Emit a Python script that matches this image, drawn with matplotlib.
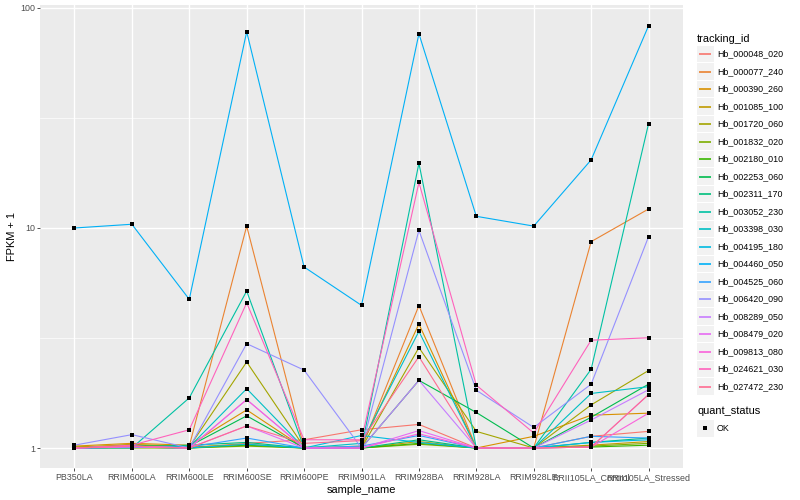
import numpy as np
import matplotlib
matplotlib.use("Agg")
import matplotlib.pyplot as plt
from matplotlib.patches import Rectangle

plt.rcParams['font.family'] = ['Liberation Sans', 'DejaVu Sans']

samples = ['PB350LA', 'RRIM600LA', 'RRIM600LE', 'RRIM600SE', 'RRIM600PE',
           'RRIM901LA', 'RRIM928BA', 'RRIM928LA', 'RRIM928LE',
           'RRII105LA_Control', 'RRII105LA_Stressed']

tracking_ids = ['Hb_000048_020', 'Hb_000077_240', 'Hb_000390_260', 'Hb_001085_100',
                'Hb_001720_060', 'Hb_001832_020', 'Hb_002180_010', 'Hb_002253_060',
                'Hb_002311_170', 'Hb_003052_230', 'Hb_003398_030', 'Hb_004195_180',
                'Hb_004460_050', 'Hb_004525_060', 'Hb_006420_090', 'Hb_008289_050',
                'Hb_008479_020', 'Hb_009813_080', 'Hb_024621_030', 'Hb_027472_230']

# FPKM + 1 per gene, one value per sample
hb_000048_020 = [1.00, 1.01, 1.00, 1.05, 1.09, 1.21, 1.28, 1.00, 1.00, 1.13, 1.19]
hb_000077_240 = [1.01, 1.02, 1.02, 10.2, 1.00, 1.00, 4.44, 1.00, 1.00, 8.67, 12.2]
hb_000390_260 = [1.02, 1.05, 1.03, 1.49, 1.00, 1.02, 3.66, 1.00, 1.13, 1.41, 1.44]
hb_001085_100 = [1.00, 1.04, 1.01, 1.04, 1.00, 1.00, 1.07, 1.00, 1.00, 1.03, 1.07]
hb_001720_060 = [1.01, 1.03, 1.01, 2.46, 1.01, 1.00, 2.86, 1.19, 1.00, 1.57, 2.25]
hb_001832_020 = [1.00, 1.00, 1.00, 1.02, 1.00, 1.00, 1.04, 1.00, 1.00, 1.02, 1.05]
hb_002180_010 = [1.00, 1.01, 1.00, 1.03, 1.00, 1.00, 1.05, 1.00, 1.00, 1.01, 1.03]
hb_002253_060 = [1.00, 1.02, 1.02, 1.40, 1.00, 1.00, 2.03, 1.45, 1.00, 1.38, 1.95]
hb_002311_170 = [1.00, 1.01, 1.03, 1.06, 1.00, 1.00, 1.09, 1.00, 1.00, 1.06, 1.11]
hb_003052_230 = [1.00, 1.00, 1.69, 5.17, 1.00, 1.00, 19.7, 1.00, 1.00, 2.28, 29.8]
hb_003398_030 = [1.00, 1.02, 1.01, 1.86, 1.00, 1.05, 3.39, 1.00, 1.00, 1.77, 1.90]
hb_004195_180 = [1.00, 1.01, 1.00, 1.04, 1.00, 1.14, 1.06, 1.00, 1.00, 1.06, 1.09]
hb_004460_050 = [10.0, 10.4, 4.74, 78.0, 6.65, 4.45, 76.4, 11.3, 10.2, 20.4, 83.0]
hb_004525_060 = [1.00, 1.01, 1.01, 1.11, 1.00, 1.02, 1.14, 1.00, 1.00, 1.13, 1.11]
hb_006420_090 = [1.03, 1.15, 1.00, 2.98, 2.26, 1.00, 9.76, 1.83, 1.24, 1.95, 9.13]
hb_008289_050 = [1.00, 1.02, 1.00, 1.66, 1.00, 1.00, 2.03, 1.00, 1.00, 1.34, 1.84]
hb_008479_020 = [1.00, 1.01, 1.00, 1.26, 1.00, 1.00, 1.20, 1.00, 1.00, 1.01, 1.75]
hb_009813_080 = [1.00, 1.02, 1.00, 1.66, 1.00, 1.00, 1.16, 1.00, 1.00, 1.01, 1.44]
hb_024621_030 = [1.00, 1.03, 1.21, 4.57, 1.09, 1.09, 16.1, 1.93, 1.17, 3.09, 3.17]
hb_027472_230 = [1.00, 1.02, 1.00, 1.26, 1.05, 1.08, 2.60, 1.00, 1.00, 1.01, 1.75]

series = [hb_000048_020, hb_000077_240, hb_000390_260, hb_001085_100, hb_001720_060,
          hb_001832_020, hb_002180_010, hb_002253_060, hb_002311_170, hb_003052_230,
          hb_003398_030, hb_004195_180, hb_004460_050, hb_004525_060, hb_006420_090,
          hb_008289_050, hb_008479_020, hb_009813_080, hb_024621_030, hb_027472_230]

# ggplot hue palette, 20 levels
colors = ['#F8766D', '#EA8331', '#D89000', '#C09B00', '#A3A500', '#7CAE00', '#39B600',
          '#00BB4E', '#00BF7D', '#00C1A3', '#00BFC4', '#00BAE0', '#00B0F6', '#35A2FF',
          '#9590FF', '#C77CFF', '#E76BF3', '#FA62DB', '#FF62BC', '#FF6C91']

W, H = 800, 500
fig = plt.figure(figsize=(8, 5), dpi=100, facecolor='white')
ax = fig.add_axes([40 / W, 1 - 468 / H, 643 / W, 463 / H], facecolor='#EBEBEB')

x = np.arange(len(samples))
for vals, c in zip(series, colors):
    ax.plot(x, vals, color=c, lw=0.8, zorder=3)
for vals in series:
    ax.plot(x, vals, 's', color='black', ms=2.3, mew=0, zorder=4)

ax.set_yscale('log')
ax.set_ylim(10 ** -0.0909, 10 ** 2.0136)
ax.set_xlim(-0.6, len(samples) - 0.4)
ax.set_yticks([1, 10, 100])
ax.set_yticklabels(['1', '10', '100'])
ax.set_yticks([10 ** 0.5, 10 ** 1.5], minor=True)
ax.yaxis.set_minor_formatter(matplotlib.ticker.NullFormatter())
ax.set_xticks(x)
ax.set_xticklabels(samples)
ax.grid(which='major', color='white', lw=1.0, zorder=1)
ax.grid(which='minor', axis='y', color='white', lw=0.5, zorder=1)
ax.set_axisbelow(True)
for s in ax.spines.values():
    s.set_visible(False)
ax.tick_params(which='major', length=2.0, width=0.6, color='#333333',
               labelsize=6.4, labelcolor='#4D4D4D', pad=1.6)
ax.tick_params(which='minor', length=0)
ax.set_xlabel('sample_name', fontsize=7.9, labelpad=2)
ax.set_ylabel('FPKM + 1', fontsize=7.9, labelpad=2)

# legend, drawn in pixel coordinates
lg = fig.add_axes([0, 0, 1, 1], facecolor='none')
lg.set_xlim(0, W)
lg.set_ylim(H, 0)
lg.axis('off')
lg.text(697, 39, 'tracking_id', fontsize=7.9, va='center', ha='left')
for i, (name, c) in enumerate(zip(tracking_ids, colors)):
    yc = 54 + 17.5 * i
    lg.add_patch(Rectangle((697, yc - 8.3), 16.6, 16.6, facecolor='#F2F2F2', edgecolor='none'))
    lg.plot([699, 711], [yc, yc], color=c, lw=1.2, solid_capstyle='butt')
    lg.text(717, yc, name, fontsize=6.4, va='center', ha='left')
lg.text(697, 411, 'quant_status', fontsize=7.9, va='center', ha='left')
lg.add_patch(Rectangle((697, 428.3 - 8.3), 16.6, 16.6, facecolor='#F2F2F2', edgecolor='none'))
lg.plot([705], [428.3], 's', color='black', ms=2.3, mew=0)
lg.text(717, 428.3, 'OK', fontsize=6.4, va='center', ha='left')

fig.savefig('out.png', dpi=100, facecolor='white')
